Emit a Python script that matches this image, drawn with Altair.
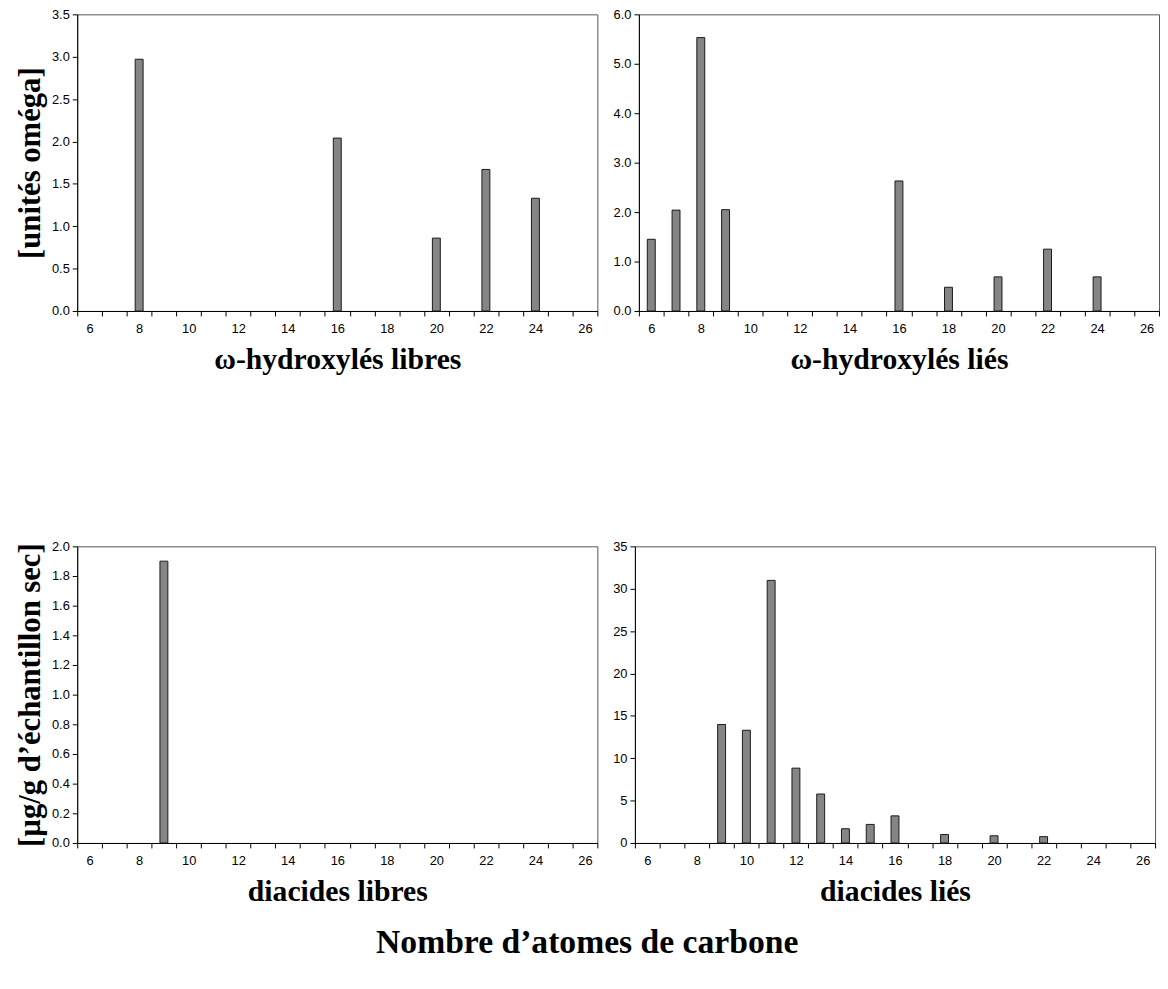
import altair as alt
import pandas as pd

carbons = list(range(6, 27))
# index:          6  7  8     9  10 11 12 13 14 15 16    17 18    19 20    21 22    23 24    25 26
omega_libres   = [0, 0, 2.97, 0, 0, 0, 0, 0, 0, 0, 2.04, 0, 0,    0, 0.86, 0, 1.67, 0, 1.33, 0, 0]
omega_lies     = [1.45, 2.04, 5.53, 2.05, 0, 0, 0, 0, 0, 0, 2.63, 0, 0.48, 0, 0.69, 0, 1.25, 0, 0.69, 0, 0]
diacides_libres = [0, 0, 0, 1.90, 0, 0, 0, 0, 0, 0, 0, 0, 0, 0, 0, 0, 0, 0, 0, 0, 0]
diacides_lies  = [0, 0, 0, 13.98, 13.3, 30.98, 8.83, 5.78, 1.68, 2.19, 3.2, 0, 1.0, 0, 0.85, 0, 0.75, 0, 0, 0, 0]

titles = ["ω-hydroxylés libres", "ω-hydroxylés liés", "diacides libres", "diacides liés"]
y_titles = ["[unités oméga]", "[µg/g d’échantillon sec]"]
y_ticks_tl = [0, 0.5, 1.0, 1.5, 2.0, 2.5, 3.0, 3.5]
y_ticks_tr = [0, 1, 2, 3, 4, 5, 6]
y_ticks_bl = [0, 0.2, 0.4, 0.6, 0.8, 1.0, 1.2, 1.4, 1.6, 1.8, 2.0]
y_ticks_br = [0, 5, 10, 15, 20, 25, 30, 35]
main_title = "Nombre d’atomes de carbone"

SERIF = "Liberation Serif"
SANS = "Liberation Sans"
W, H = 526, 300


def panel(values, xtitle, yticks, yfmt, ytitle=None):
    df = pd.DataFrame({"c": carbons, "v": values})
    yaxis_kw = dict(values=yticks, format=yfmt, grid=False, tickSize=5,
                    labelPadding=3, labelFontSize=13, labelFont=SANS)
    if ytitle is not None:
        yaxis_kw.update(title=ytitle, titleFont=SERIF, titleFontSize=31,
                        titleFontWeight="bold", titlePadding=5, titleColor="black")
    else:
        yaxis_kw.update(title=None)
    return (
        alt.Chart(df)
        .transform_filter("datum.v > 0")
        .mark_bar(width=alt.RelativeBandSize(0.32), fill="#858585",
                  stroke="#1a1a1a", strokeWidth=1)
        .encode(
            x=alt.X("c:O",
                    scale=alt.Scale(domain=carbons, paddingInner=0, paddingOuter=0),
                    axis=alt.Axis(title=xtitle, labelAngle=0, tickBand="extent",
                                  labelExpr="datum.value % 2 == 0 ? datum.label : ''",
                                  tickSize=5, labelPadding=7, labelFontSize=13,
                                  labelFont=SANS, grid=False,
                                  titleFont=SERIF, titleFontSize=30,
                                  titleFontWeight="bold", titlePadding=9,
                                  titleColor="black")),
            y=alt.Y("v:Q",
                    scale=alt.Scale(domain=[yticks[0], yticks[-1]], nice=False),
                    axis=alt.Axis(**yaxis_kw)),
        )
        .properties(width=W, height=H)
    )


p1 = panel(omega_libres, titles[0], y_ticks_tl, ".1f", y_titles[0])
p2 = panel(omega_lies, titles[1], y_ticks_tr, ".1f")
p3 = panel(diacides_libres, titles[2], y_ticks_bl, ".1f", y_titles[1])
p4 = panel(diacides_lies, titles[3], y_ticks_br, "d")

top = alt.hconcat(p1, p2, spacing=14)
bottom = alt.hconcat(p3, p4, spacing=14)

chart = (
    alt.vconcat(top, bottom, spacing=166)
    .properties(
        title=alt.TitleParams(main_title, orient="bottom", anchor="middle",
                              font=SERIF, fontSize=34, fontWeight="bold",
                              color="black", offset=20),
        padding={"left": 6, "top": -6, "right": 0, "bottom": 0},
        background="white",
    )
    .configure_view(stroke="#555", strokeWidth=1)
    .configure_axis(domainColor="black", tickColor="black", labelColor="black",
                    domainWidth=1, tickWidth=1)
)

chart.save("out.html", embed_options={"renderer": "svg", "actions": False})
